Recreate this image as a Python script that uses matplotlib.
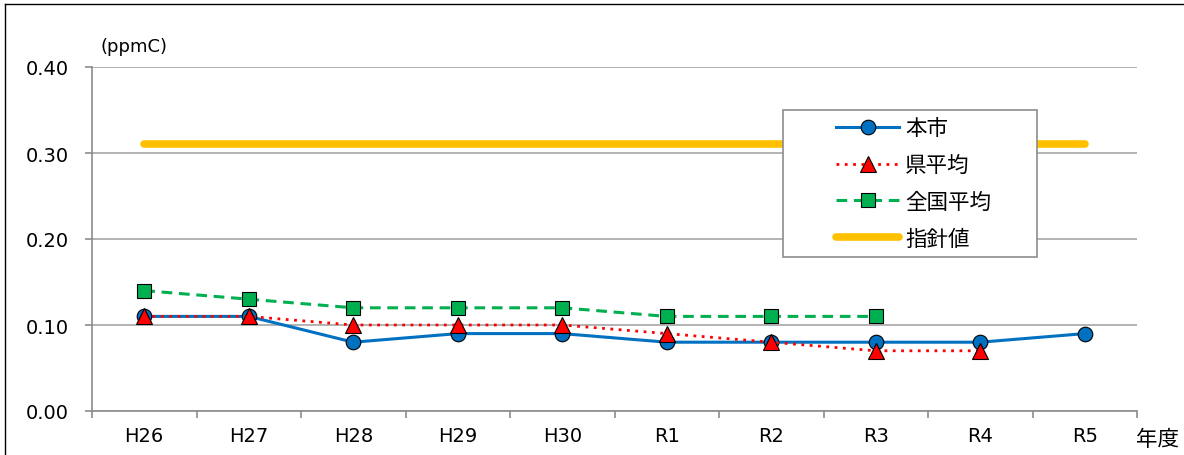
import matplotlib.pyplot as plt
from matplotlib.legend_handler import HandlerLine2D
from matplotlib.lines import Line2D
import numpy as np

plt.rcParams['font.family'] = ['DejaVu Sans', 'Noto Sans CJK JP']

years = ["H26", "H27", "H28", "H29", "H30", "R1", "R2", "R3", "R4", "R5"]
city = [0.11, 0.11, 0.08, 0.09, 0.09, 0.08, 0.08, 0.08, 0.08, 0.09]
pref = [0.11, 0.11, 0.10, 0.10, 0.10, 0.09, 0.08, 0.07, 0.07, None]
nation = [0.14, 0.13, 0.12, 0.12, 0.12, 0.11, 0.11, 0.11, None, None]
guide = [0.31] * 10


class PadHandler(HandlerLine2D):
    # leaves empty room on the left of each legend handle
    def create_artists(self, legend, orig_handle, xdescent, ydescent,
                       width, height, fontsize, trans):
        pad = width * 0.42
        return super().create_artists(legend, orig_handle, xdescent - pad, ydescent,
                                      width - pad, height, fontsize, trans)


def arr(v):
    return np.array([np.nan if a is None else a for a in v], dtype=float)


fig = plt.figure(figsize=(11.84, 4.56), dpi=100)
ax = fig.add_axes([92 / 1184, 1 - 412 / 456, 1045 / 1184, 344 / 456])

x = np.arange(len(years))
l4, = ax.plot(x, guide, color="#FFC000", lw=5.5, solid_capstyle="round", label="指針値", zorder=2)
l1, = ax.plot(x, arr(city), color="#0070C0", lw=2.2, marker="o", ms=10.5,
              mfc="#0070C0", mec="black", mew=0.8, label="本市", zorder=3)
l2, = ax.plot(x, arr(pref), color="#FF0000", lw=2, ls=(0, (1, 2)), marker="^", ms=11,
              mfc="#FF0000", mec="black", mew=0.8, label="県平均", zorder=4)
l3, = ax.plot(x, arr(nation), color="#00B050", lw=2.2, ls=(0, (3.5, 2.2)), marker="s", ms=10,
              mfc="#00B050", mec="black", mew=0.8, label="全国平均", zorder=5)

ax.set_xlim(-0.5, 9.5)
ax.set_ylim(0, 0.40)
ax.set_yticks([0, 0.1, 0.2, 0.3, 0.4])
ax.set_yticklabels(["0.00", "0.10", "0.20", "0.30", "0.40"])
ax.set_xticks(x)
ax.set_xticklabels(years)
ax.set_xticks(np.arange(-0.5, 10, 1), minor=True)
ax.tick_params(axis="x", which="major", length=0, pad=11, labelsize=14)
ax.tick_params(axis="x", which="minor", length=5, color="#8c8c8c", width=1.2)
ax.tick_params(axis="y", length=5, color="#8c8c8c", width=1.2, pad=12, labelsize=14)
ax.yaxis.grid(True, color="#a6a6a6", lw=1.2)
ax.set_axisbelow(True)
for s in ["top", "right"]:
    ax.spines[s].set_visible(False)
for s in ["left", "bottom"]:
    ax.spines[s].set_color("#8c8c8c")
    ax.spines[s].set_linewidth(1.2)

leg = ax.legend(handles=[l1, l2, l3, l4], loc="upper left",
                bbox_to_anchor=(691 / 1045, 0, 254 / 1045, 301 / 344),
                mode="expand", borderaxespad=0, fontsize=15.5, handlelength=5.0,
                handletextpad=0.3, labelspacing=0.78, fancybox=False,
                edgecolor="#8c8c8c", framealpha=1, borderpad=0.38,
                handler_map={Line2D: PadHandler()})
leg.get_frame().set_linewidth(1.2)
leg.set_zorder(10)

fig.text(100 / 1184, 1 - 47 / 456, "(ppmC)", fontsize=13, va="center", ha="left")
fig.text(1136 / 1184, 1 - 440 / 456, "年度", fontsize=15.5, va="center", ha="left")

# outer frame of the figure
fig.add_artist(Line2D([5 / 1184, 1], [1 - 5 / 456] * 2, color="black", lw=1, transform=fig.transFigure))
fig.add_artist(Line2D([5 / 1184] * 2, [0, 1 - 5 / 456], color="black", lw=1, transform=fig.transFigure))

fig.savefig("out.png", dpi=100)
